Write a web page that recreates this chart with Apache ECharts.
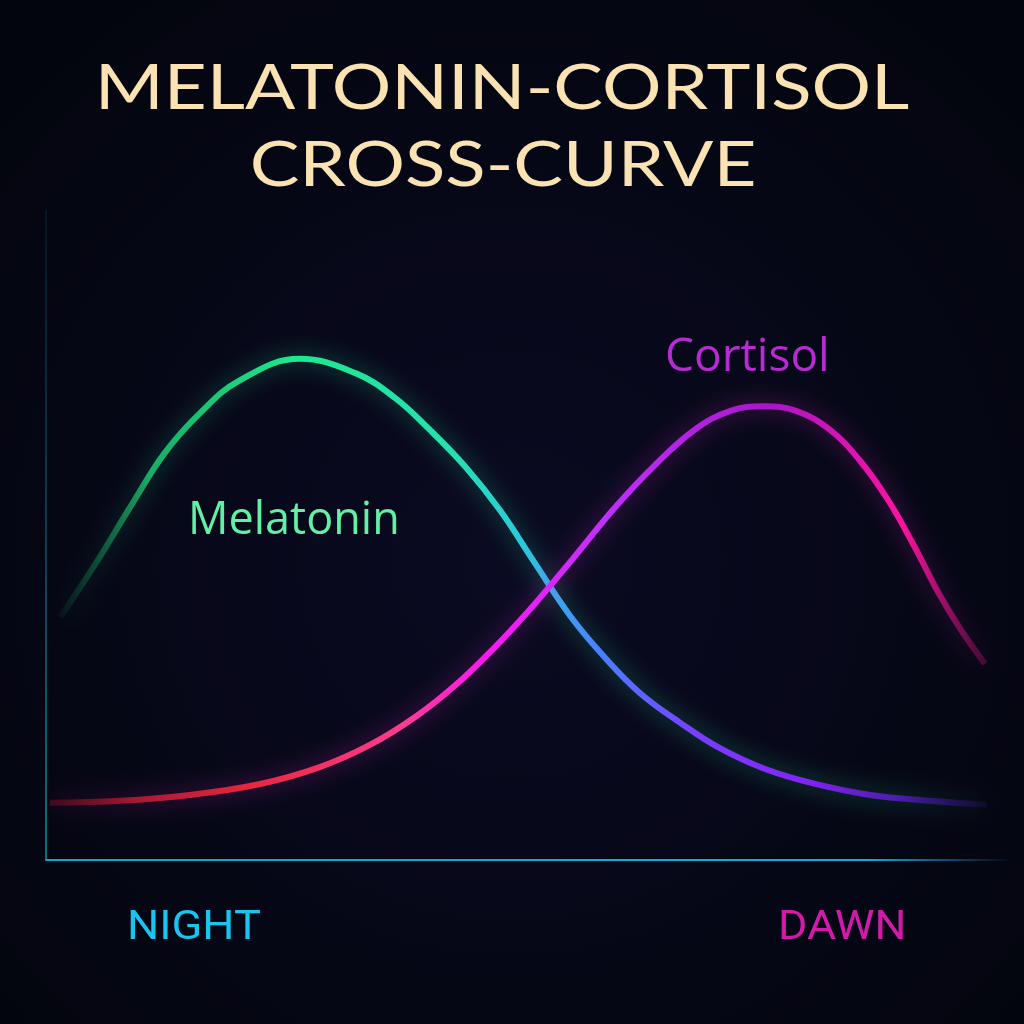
<!DOCTYPE html>
<html>
<head>
<meta charset="utf-8">
<script src="https://cdn.jsdelivr.net/npm/echarts@6/dist/echarts.min.js"></script>
<style>html,body{margin:0;padding:0;background:#04060f;}#c{width:1024px;height:1024px;}</style>
</head>
<body>
<div id="c"></div>
<script>
// normalized time (0 = night, 100 = dawn) and relative hormone level
const melatoninX = [1.5, 5.1, 8.7, 12.3, 16.0, 20.1, 26.3, 32.1, 36.2, 39.8, 43.5, 47.1, 50.7, 54.4, 58.0, 61.6, 65.8, 69.9, 74.6, 79.8, 85.5, 91.7, 97.6];
const melatoninY = [37.4, 45.5, 54.2, 62.6, 68.8, 73.8, 77.1, 74.9, 71.1, 66.2, 60.5, 53.8, 45.7, 37.5, 31.1, 25.7, 21.1, 17.2, 14.0, 11.7, 10.0, 9.1, 8.5];
const cortisolX = [0.4, 7.7, 14.9, 22.2, 28.4, 33.6, 38.3, 42.4, 46.6, 50.7, 54.9, 59.0, 63.2, 67.3, 71.0, 74.4, 77.8, 81.3, 84.4, 87.3, 90.1, 92.7, 95.0, 97.4];
const cortisolY = [8.8, 9.1, 10.0, 11.7, 14.3, 17.7, 22.0, 26.8, 32.8, 39.4, 46.8, 54.2, 60.8, 66.2, 69.1, 69.8, 69.1, 66.2, 61.5, 55.5, 48.2, 40.8, 35.2, 30.2];
const titleLines = ['MELATONIN-CORTISOL', 'CROSS-CURVE'];
const seriesNames = ['Melatonin', 'Cortisol'];
const axisEnds = ['NIGHT', 'DAWN'];

const chart = echarts.init(document.getElementById('c'));
const G = echarts.graphic.LinearGradient;
const pairs = (xs, ys) => xs.map((x, i) => [x, ys[i]]);

const melGrad = new G(0, 0, 1, 0, [
  {offset: 0, color: 'rgba(20,160,90,0.05)'},
  {offset: 0.1, color: 'rgba(30,210,120,0.8)'},
  {offset: 0.25, color: '#1ee88e'},
  {offset: 0.42, color: '#26e0b0'},
  {offset: 0.5, color: '#2cc8dc'},
  {offset: 0.58, color: '#4a80ff'},
  {offset: 0.69, color: '#7a3cff'},
  {offset: 0.8, color: '#8424f4'},
  {offset: 0.9, color: 'rgba(100,30,220,0.75)'},
  {offset: 1, color: 'rgba(60,20,160,0.15)'}
]);
const corGrad = new G(0, 0, 1, 0, [
  {offset: 0, color: 'rgba(170,20,40,0.3)'},
  {offset: 0.1, color: 'rgba(210,30,55,0.8)'},
  {offset: 0.22, color: '#e8283f'},
  {offset: 0.38, color: '#ff3c90'},
  {offset: 0.46, color: '#ff18f0'},
  {offset: 0.59, color: '#c030ff'},
  {offset: 0.77, color: '#a816c8'},
  {offset: 0.91, color: '#ff12a2'},
  {offset: 1, color: 'rgba(180,20,110,0.3)'}
]);

const lab = (text, x, y, fill, font, align, sx) => ({
  type: 'text', x: x, y: y, scaleX: sx || 1,
  style: {text: text, fill: fill, font: font, align: align, verticalAlign: 'middle', textAlign: align, textVerticalAlign: 'middle'}
});

chart.setOption({
  backgroundColor: new echarts.graphic.RadialGradient(0.5, 0.55, 0.7, [
    {offset: 0, color: '#0a0a22'},
    {offset: 1, color: '#03050d'}
  ]),
  grid: {left: 46, right: 14, top: 210, bottom: 164},
  xAxis: {
    type: 'value', min: 0, max: 100,
    axisLine: {show: true, lineStyle: {width: 2, color: new G(0, 0, 1, 0, [
      {offset: 0, color: '#18a0d0'}, {offset: 0.85, color: '#18a8e0'}, {offset: 1, color: 'rgba(24,160,220,0)'}
    ])}},
    axisTick: {show: false}, axisLabel: {show: false}, splitLine: {show: false}
  },
  yAxis: {
    type: 'value', min: 0, max: 100,
    axisLine: {show: true, lineStyle: {width: 1.5, color: new G(0, 0, 0, 1, [
      {offset: 0, color: 'rgba(20,110,130,0.2)'}, {offset: 1, color: '#1590b0'}
    ])}},
    axisTick: {show: false}, axisLabel: {show: false}, splitLine: {show: false}
  },
  series: [
    {
      name: seriesNames[0], type: 'line', smooth: 0.4, showSymbol: false,
      data: pairs(melatoninX, melatoninY),
      lineStyle: {width: 6, color: melGrad, shadowBlur: 22, shadowColor: 'rgba(40,230,160,0.5)'}
    },
    {
      name: seriesNames[1], type: 'line', smooth: 0.4, showSymbol: false,
      data: pairs(cortisolX, cortisolY),
      lineStyle: {width: 6, color: corGrad, shadowBlur: 22, shadowColor: 'rgba(230,40,200,0.5)'}
    }
  ],
  graphic: [
    lab(titleLines[0], 502, 89, '#fbe2b2', '62px Lato', 'center', 1.2),
    lab(titleLines[1], 503, 166, '#fbe2b2', '62px Lato', 'center', 1.2),
    lab(seriesNames[0], 188, 521, '#62f0a4', '45px "Open Sans"', 'left'),
    lab(seriesNames[1], 665, 358, '#b82ad2', '46px "Open Sans"', 'left'),
    lab(axisEnds[0], 127, 929, '#18c4f0', '40px Roboto', 'left', 1.13),
    lab(axisEnds[1], 778, 929, '#d21aa8', '40px Roboto', 'left', 1.12)
  ]
});
</script>
</body>
</html>
